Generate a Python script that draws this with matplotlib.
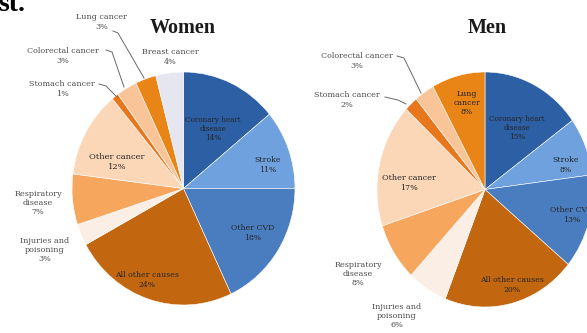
import matplotlib
matplotlib.use("Agg")
import matplotlib.pyplot as plt

W, H = 587, 333

# causes of death, clockwise from 12 o'clock
women_names = ["Coronary heart\ndisease", "Stroke", "Other CVD", "All other causes",
               "Injuries and\npoisoning", "Respiratory\ndisease", "Other cancer",
               "Stomach cancer", "Colorectal cancer", "Lung cancer", "Breast cancer"]
women_pct = [14, 11, 18, 24, 3, 7, 12, 1, 3, 3, 4]
women_colors = ["#2c5fa3", "#6ea1dd", "#4a7dbf", "#c2660f", "#fbeee5", "#f7a75d",
                "#fbd6b7", "#e8761b", "#f9c497", "#e98417", "#e6e6f0"]

men_names = ["Coronary heart\ndisease", "Stroke", "Other CVD", "All other causes",
             "Injuries and\npoisoning", "Respiratory\ndisease", "Other cancer",
             "Stomach cancer", "Colorectal cancer", "Lung\ncancer"]
men_pct = [15, 8, 13, 20, 6, 8, 17, 2, 3, 8]
men_colors = ["#2c5fa3", "#6ea1dd", "#4a7dbf", "#c2660f", "#fbeee5", "#f7a75d",
              "#fbd6b7", "#e8761b", "#f9c497", "#e98417"]

SERIF = ["DejaVu Serif"]
TITLE_SERIF = ["Liberation Serif", "DejaVu Serif"]

fig = plt.figure(figsize=(W / 100, H / 100), dpi=100)
fig.patch.set_facecolor("white")


def pie_axes(cx, cy, rx, ry):
    return fig.add_axes([(cx - rx) / W, 1 - (cy + ry) / H, 2 * rx / W, 2 * ry / H])


def draw_pie(ax, vals, colors):
    ax.pie(vals, colors=colors, startangle=90, counterclock=False, radius=1,
           wedgeprops=dict(edgecolor="white", linewidth=0.4))
    ax.set_aspect("auto")
    ax.set_xlim(-1.0, 1.0)
    ax.set_ylim(-1.0, 1.0)
    ax.axis("off")


ax_w = pie_axes(183.5, 188.5, 111.5, 116.5)
draw_pie(ax_w, women_pct, women_colors)
ax_m = pie_axes(485, 189.5, 108, 117.5)
draw_pie(ax_m, men_pct, men_colors)

# text layer in pixel coordinates
ov = fig.add_axes([0, 0, 1, 1], zorder=5)
ov.set_xlim(0, W)
ov.set_ylim(H, 0)
ov.axis("off")

ov.text(-2, 11, "st.", fontsize=20, fontweight="bold", family=TITLE_SERIF,
        color="black", ha="left", va="baseline")
ov.text(183, 28, "Women", fontsize=14.5, fontweight="bold", family=TITLE_SERIF,
        color="#1a1a1a", ha="center", va="center")
ov.text(487, 28, "Men", fontsize=14.5, fontweight="bold", family=TITLE_SERIF,
        color="#1a1a1a", ha="center", va="center")

# label anchor (x, y, font size, inside?) per slice
women_pos = [(213, 129, 5.2, True), (268, 165, 5.6, True), (253, 233, 5.6, True),
             (147, 280, 5.6, True), (45, 250, 5.8, False), (38, 203, 5.8, False),
             (117, 162, 6.0, True), (62, 89, 5.8, False), (63, 56, 5.8, False),
             (102, 22, 5.8, False), (170, 57, 5.8, False)]
men_pos = [(517, 128, 5.2, True), (566, 165, 5.6, True), (572, 215, 5.6, True),
           (512, 285, 5.6, True), (397, 316, 5.8, False), (358, 274, 5.8, False),
           (409, 183, 5.8, True), (347, 100, 5.8, False), (357, 61, 5.8, False),
           (467, 103, 5.6, True)]


def put_labels(names, vals, pos):
    for name, v, (x, y, size, inside) in zip(names, vals, pos):
        ov.text(x, y, f"{name}\n{v}%", ha="center", va="center", family=SERIF,
                fontsize=size, linespacing=1.2,
                color="#262626" if inside else "#4e4e4e")


put_labels(women_names, women_pct, women_pos)
put_labels(men_names, men_pct, men_pos)

# leader lines for the thin slices
leaders = [
    [(113, 31), (118, 33), (144, 78)],
    [(106, 50), (112, 52), (124, 87)],
    [(99, 84), (106, 86), (117, 97)],
    [(397, 56), (404, 58), (421, 93)],
    [(385, 97), (398, 100), (406, 104)],
]
for pts in leaders:
    xs, ys = zip(*pts)
    ov.plot(xs, ys, color="#6a6a6a", lw=0.7)

fig.savefig("out.png", dpi=100)
